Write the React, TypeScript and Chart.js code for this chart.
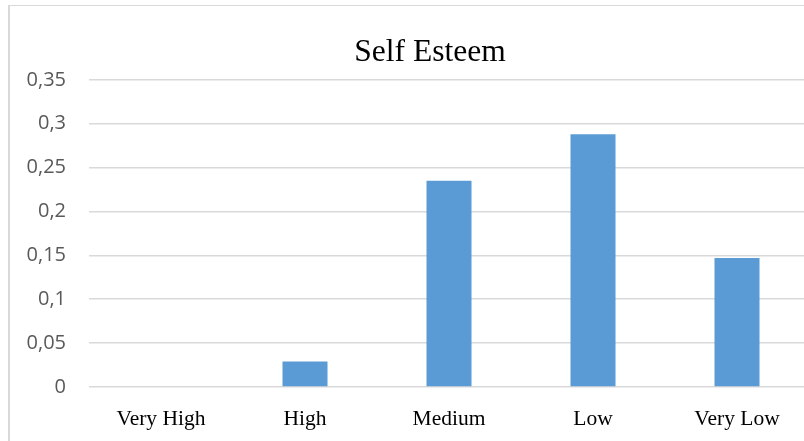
import React, { useEffect, useRef } from "react";
import { Chart, registerables } from "chart.js";

Chart.register(...registerables);

const categories = ["Very High", "High", "Medium", "Low", "Very Low"];
const values = [0, 0.029, 0.235, 0.288, 0.147];
const yMin = 0;
const yMax = 0.35;
const yStep = 0.05;
const titleText = "Self Esteem";

export default function App() {
  const ref = useRef<HTMLCanvasElement | null>(null);

  useEffect(() => {
    if (!ref.current) return;
    const chart = new Chart(ref.current, {
      type: "bar",
      data: {
        labels: categories,
        datasets: [
          {
            data: values,
            backgroundColor: "#5B9BD5",
            borderWidth: 0,
            barPercentage: 1,
            categoryPercentage: 0.3125,
          },
        ],
      },
      options: {
        responsive: false,
        animation: false,
        layout: { padding: { left: 0, right: 0, top: 0, bottom: 0 } },
        plugins: {
          legend: { display: false },
          tooltip: { enabled: false },
          title: {
            display: true,
            text: titleText,
            color: "#000000",
            font: { family: "'Liberation Serif', 'Times New Roman', serif", size: 31.5, weight: "normal" },
            padding: { top: 34, bottom: 8 },
          },
        },
        scales: {
          x: {
            grid: { display: false },
            border: { display: false },
            ticks: {
              color: "#000000",
              padding: 11,
              maxRotation: 0,
              font: { family: "'Liberation Serif', 'Times New Roman', serif", size: 21.5 },
            },
            afterFit: (scale: any) => {
              scale.height = 54;
            },
          },
          y: {
            min: yMin,
            max: yMax,
            grid: { color: "#d9d9d9", lineWidth: 1.5, drawTicks: false },
            border: { display: false },
            ticks: {
              stepSize: yStep,
              padding: 23,
              color: "#595959",
              font: { family: "'Open Sans', sans-serif", size: 20 },
              callback: (v: any) => {
                const n = Math.round(Number(v) * 100) / 100;
                return String(n).replace(".", ",");
              },
            },
            afterFit: (scale: any) => {
              scale.width = 89;
            },
          },
          yr: {
            type: "linear",
            position: "right",
            display: true,
            grid: { display: false, drawTicks: false },
            border: { display: false },
            ticks: { display: false },
            afterFit: (scale: any) => {
              scale.width = 51;
            },
          },
        },
      },
    });
    return () => chart.destroy();
  }, []);

  return (
    <div
      style={{
        position: "fixed",
        left: 0,
        top: 0,
        width: 804,
        height: 441,
        overflow: "hidden",
        background: "#ffffff",
      }}
    >
      <div
        style={{
          position: "absolute",
          left: 8,
          top: 5,
          width: 900,
          height: 500,
          borderLeft: "2px solid #d9d9d9",
          borderTop: "1.5px solid #d9d9d9",
        }}
      />
      <canvas
        ref={ref}
        width={860}
        height={441}
        style={{ position: "absolute", left: 0, top: 0, width: 860, height: 441 }}
      />
    </div>
  );
}
